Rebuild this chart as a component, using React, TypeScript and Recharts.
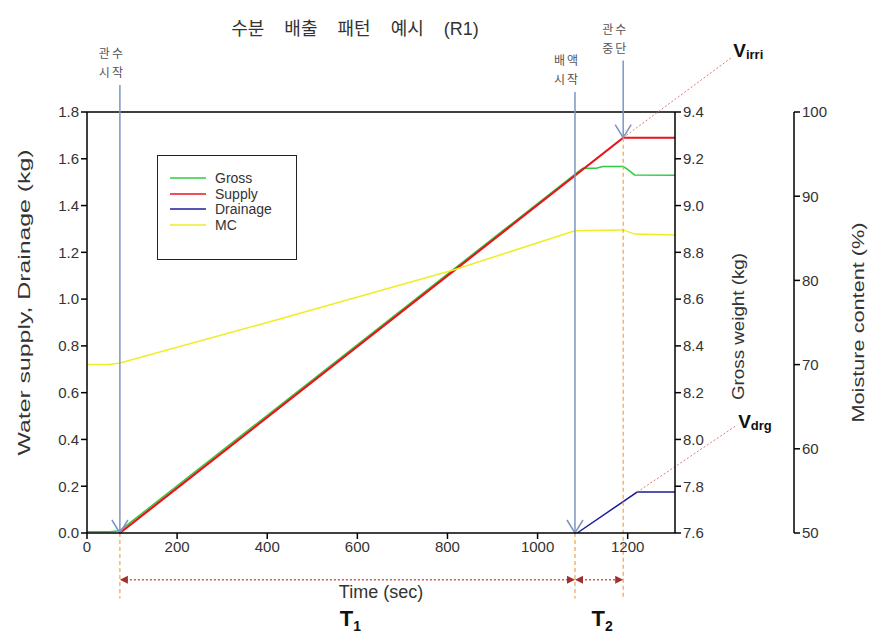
import React from "react"
import { ComposedChart, Line, XAxis, YAxis, ReferenceLine, Legend } from "recharts"

// axis ticks
const timeTicks = [0, 200, 400, 600, 800, 1000, 1200]
const waterTicks = [0, 0.2, 0.4, 0.6, 0.8, 1.0, 1.2, 1.4, 1.6, 1.8]
const grossTicks = [7.6, 7.8, 8.0, 8.2, 8.4, 8.6, 8.8, 9.0, 9.2, 9.4]
const mcTicks = [50, 60, 70, 80, 90, 100]

// Supply (kg)
const supplyTime = [73, 1190, 1305]
const supplyKg = [0, 1.69, 1.69]

// Gross weight (kg)
const grossTime = [0, 50, 73, 1100, 1130, 1145, 1190, 1200, 1215, 1305]
const grossKg = [7.605, 7.605, 7.61, 9.16, 9.16, 9.167, 9.167, 9.155, 9.131, 9.13]

// Drainage (kg)
const drainTime = [1088, 1221, 1305]
const drainKg = [0, 0.175, 0.175]

// Moisture content (%)
const mcTime = [0, 50, 73, 400, 817, 1083, 1190, 1215, 1305]
const mcPct = [70, 70, 70.2, 75.0, 81.3, 85.9, 86.0, 85.5, 85.4]

// event times (sec)
const irrStart = 73
const drainStart = 1083
const irrStop = 1190

const seriesNames = ["Gross", "Supply", "Drainage", "MC"]
const seriesColors = ["#2ecc40", "#e8141b", "#1c1c9c", "#eeee22"]

const rows = (ts: number[], vs: number[]) => ts.map((t, i) => ({ t, v: vs[i] }))

const FONT = "Arial, 'Liberation Sans', 'Noto Sans CJK KR', sans-serif"
const KFONT = "'Noto Sans CJK KR', sans-serif"
const ARROW = "#7b95c6"
const ORANGE = "#f0a24a"

const vTitle = (text: string, dx: number, dy: number, len: number) => (props: any) => {
  const vb = props.viewBox
  const cx = vb.x + dx
  const cy = vb.y + vb.height / 2 + dy
  return (
    <text x={cx} y={cy} transform={`rotate(-90 ${cx} ${cy})`} textAnchor="middle" dominantBaseline="central"
      fontSize={16} fill="#333" fontFamily={FONT} textLength={len} lengthAdjust="spacingAndGlyphs">
      {text}
    </text>
  )
}

const xTitle = (props: any) => {
  const vb = props.viewBox
  return (
    <text x={vb.x + vb.width / 2} y={vb.y + 59} textAnchor="middle" dominantBaseline="central" fontSize={18} fill="#333" fontFamily={FONT}>
      Time (sec)
    </text>
  )
}

const blueArrow = (lines: string[]) => (p: any) => {
  const { x1, y1, x2, y2 } = p
  return (
    <g>
      <line x1={x1} y1={y1} x2={x2} y2={y2} stroke={ARROW} strokeWidth={1.5} />
      <path d={`M${x2 - 8},${y2 - 13} L${x2},${y2} L${x2 + 8},${y2 - 13}`} fill="none" stroke={ARROW} strokeWidth={1.5} />
      {lines.map((s, i) => (
        <text key={i} x={x1 - 8} y={y1 - 8 - (lines.length - 1 - i) * 19} textAnchor="middle" fontSize={12}
          letterSpacing={2} fill="#555" fontFamily={KFONT}>
          {s}
        </text>
      ))}
    </g>
  )
}

const spanArrow = (sub: string) => (p: any) => {
  const { x1, y1, x2 } = p
  return (
    <g>
      <line x1={x1 + 6} y1={y1} x2={x2 - 6} y2={y1} stroke="#d9534f" strokeDasharray="2 2" strokeWidth={1.5} />
      <path d={`M${x1},${y1} l8,-4 l0,8 z`} fill="#a03030" />
      <path d={`M${x2},${y1} l-8,-4 l0,8 z`} fill="#a03030" />
      <text x={(x1 + x2) / 2 + 3} y={y1 + 46} textAnchor="middle" fontSize={22} fontWeight="bold" fill="#111" fontFamily={FONT}>
        T<tspan fontSize={14} dy={5}>{sub}</tspan>
      </text>
    </g>
  )
}

const extLine = (sub: string, dy: number) => (p: any) => {
  const { x1, y1, x2, y2 } = p
  return (
    <g>
      <line x1={x1} y1={y1} x2={x2} y2={y2} stroke="#e07a7a" strokeDasharray="2 2" strokeWidth={1} />
      <text x={x2 + 1} y={y2 + dy} fontSize={19} fontWeight="bold" fill="#111" fontFamily={FONT}>
        V<tspan fontSize={13} dy={2}>{sub}</tspan>
      </text>
    </g>
  )
}

const renderLegend = () => (
  <div style={{ border: "1px solid #222", width: 140, height: 105, boxSizing: "border-box", padding: "14px 0 0 12px", fontFamily: FONT, fontSize: 14, color: "#333" }}>
    {seriesNames.map((name, i) => (
      <div key={name} style={{ display: "flex", alignItems: "center", height: 15.7 }}>
        <svg width={36} height={4} style={{ marginRight: 9 }}>
          <line x1={0} y1={2} x2={36} y2={2} stroke={seriesColors[i]} strokeWidth={1.5} />
        </svg>
        <span>{name}</span>
      </div>
    ))}
  </div>
)

export default function App() {
  const axisStyle = { stroke: "#000", strokeWidth: 1.5 }
  const tickStyle = { fill: "#333", fontSize: 15, fontFamily: FONT }
  return (
    <div style={{ position: "absolute", left: 0, top: 0, width: 872, height: 637, background: "#fff" }}>
      <div style={{ position: "absolute", left: 0, top: 14, width: 710, textAlign: "center", fontSize: 18, color: "#333", fontFamily: KFONT, whiteSpace: "pre", wordSpacing: 16 }}>
        수분 배출 패턴 예시 <span style={{ fontFamily: FONT }}>(R1)</span>
      </div>
      <ComposedChart width={872} height={637} margin={{ top: 112, right: 0, bottom: 0, left: 0 }}>
        <XAxis dataKey="t" type="number" domain={[0, 1305]} ticks={timeTicks} allowDataOverflow
          height={104} tickSize={6} axisLine={axisStyle} tickLine={axisStyle} tick={tickStyle}
          label={{ content: xTitle }} />
        <YAxis yAxisId="left" domain={[0, 1.8]} ticks={waterTicks} width={87} tickSize={6}
          tickFormatter={(v: number) => v.toFixed(1)} axisLine={axisStyle} tickLine={axisStyle} tick={tickStyle}
          label={{ content: vTitle("Water supply, Drainage (kg)", 24, -20, 306) }} />
        <YAxis yAxisId="gross" orientation="right" domain={[7.6, 9.4]} ticks={grossTicks} width={119} tickSize={6}
          tickFormatter={(v: number) => v.toFixed(1)} axisLine={axisStyle} tickLine={axisStyle} tick={tickStyle}
          label={{ content: vTitle("Gross weight (kg)", 63, 4, 147) }} />
        <YAxis yAxisId="mc" orientation="right" domain={[50, 100]} ticks={mcTicks} width={78} tickSize={6}
          axisLine={axisStyle} tickLine={axisStyle} tick={tickStyle}
          label={{ content: vTitle("Moisture content (%)", 64, 0, 200) }} />

        <ReferenceLine yAxisId="left" y={1.8} stroke="#000" strokeWidth={1.5} />

        <Line data={rows(grossTime, grossKg)} dataKey="v" name={seriesNames[0]} yAxisId="gross" stroke={seriesColors[0]} strokeWidth={1.5} dot={false} isAnimationActive={false} />
        <Line data={rows(supplyTime, supplyKg)} dataKey="v" name={seriesNames[1]} yAxisId="left" stroke={seriesColors[1]} strokeWidth={2.2} dot={false} isAnimationActive={false} />
        <Line data={rows(drainTime, drainKg)} dataKey="v" name={seriesNames[2]} yAxisId="left" stroke={seriesColors[2]} strokeWidth={1.5} dot={false} isAnimationActive={false} />
        <Line data={rows(mcTime, mcPct)} dataKey="v" name={seriesNames[3]} yAxisId="mc" stroke={seriesColors[3]} strokeWidth={1.5} dot={false} isAnimationActive={false} />

        {/* event markers */}
        <ReferenceLine yAxisId="left" ifOverflow="visible" segment={[{ x: irrStart, y: 0 }, { x: irrStart, y: -0.28 }]} stroke={ORANGE} strokeDasharray="4 3" strokeWidth={1.2} />
        <ReferenceLine yAxisId="left" ifOverflow="visible" segment={[{ x: drainStart, y: 0 }, { x: drainStart, y: -0.28 }]} stroke={ORANGE} strokeDasharray="4 3" strokeWidth={1.2} />
        <ReferenceLine yAxisId="left" ifOverflow="visible" segment={[{ x: irrStop, y: 1.69 }, { x: irrStop, y: -0.28 }]} stroke={ORANGE} strokeDasharray="4 3" strokeWidth={1.2} />

        <ReferenceLine yAxisId="left" ifOverflow="visible" segment={[{ x: irrStart, y: 1.915 }, { x: irrStart, y: 0 }]} shape={blueArrow(["관수", "시작"])} />
        <ReferenceLine yAxisId="left" ifOverflow="visible" segment={[{ x: drainStart, y: 1.885 }, { x: drainStart, y: 0 }]} shape={blueArrow(["배액", "시작"])} />
        <ReferenceLine yAxisId="left" ifOverflow="visible" segment={[{ x: irrStop, y: 2.02 }, { x: irrStop, y: 1.69 }]} shape={blueArrow(["관수", "중단"])} />

        <ReferenceLine yAxisId="left" ifOverflow="visible" segment={[{ x: irrStart, y: -0.2 }, { x: drainStart, y: -0.2 }]} shape={spanArrow("1")} />
        <ReferenceLine yAxisId="left" ifOverflow="visible" segment={[{ x: drainStart, y: -0.2 }, { x: irrStop, y: -0.2 }]} shape={spanArrow("2")} />

        <ReferenceLine yAxisId="left" ifOverflow="visible" segment={[{ x: irrStop, y: 1.69 }, { x: 1432, y: 2.035 }]} shape={extLine("irri", 0)} />
        <ReferenceLine yAxisId="left" ifOverflow="visible" segment={[{ x: 1221, y: 0.175 }, { x: 1443, y: 0.462 }]} shape={extLine("drg", 3)} />

        <Legend layout="vertical" align="center" verticalAlign="middle" content={renderLegend}
          wrapperStyle={{ left: 157, top: 155, width: 140, height: 105 }} />
      </ComposedChart>
    </div>
  )
}
